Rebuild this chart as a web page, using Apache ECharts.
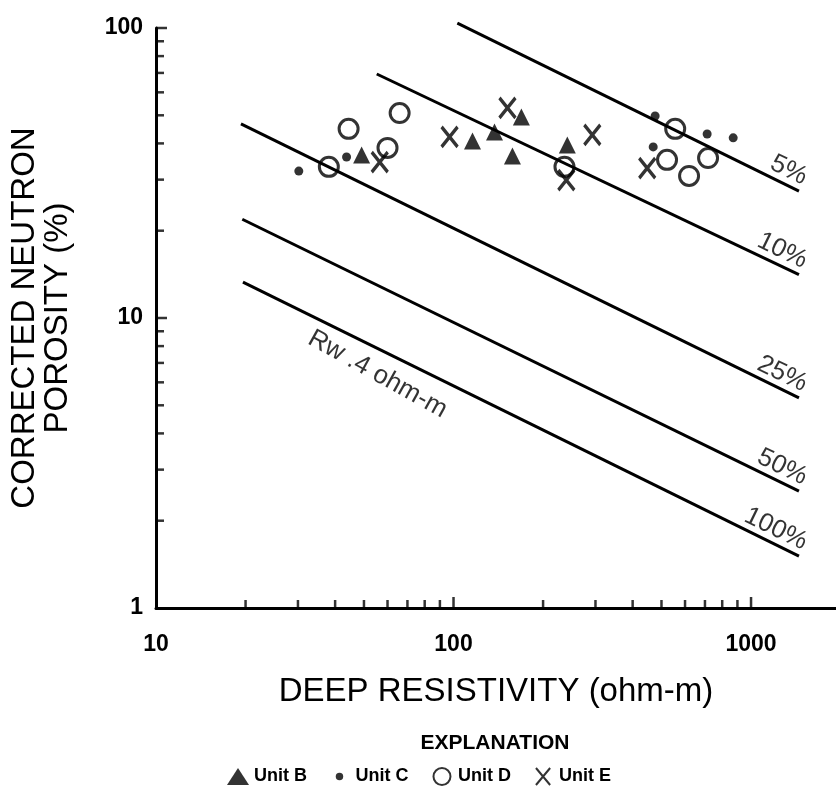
<!DOCTYPE html>
<html>
<head>
<meta charset="utf-8">
<script src="https://cdn.jsdelivr.net/npm/echarts@6/dist/echarts.min.js"></script>
<style>
html,body{margin:0;padding:0;background:#fff;}
#chart{width:836px;height:788px;}
</style>
</head>
<body>
<div id="chart"></div>
<script>
// ---- data ----
const xTickMajor = [100, 1000];
const xTickMinor = [20, 30, 40, 50, 60, 70, 80, 90, 200, 300, 400, 500, 600, 700, 800, 900];
const yTickMajor = [10, 100];
const yTickMinor = [2, 3, 4, 5, 6, 7, 8, 9, 20, 30, 40, 50, 60, 70, 80, 90];

const lineNames = ['5%', '10%', '25%', '50%', '100%'];
const lineStart = [[103, 104], [55.2, 69.4], [19.3, 46.7], [19.5, 21.9], [19.6, 13.3]];
const lineEnd   = [[1449, 27.4], [1449, 14.1], [1449, 5.30], [1449, 2.53], [1449, 1.51]];
const rwLabel = 'Rw .4 ohm-m';

const unitB = [[49.1, 36.5], [115.8, 40.8], [137.3, 43.8], [169.1, 49.3], [157.8, 36.2], [241.3, 39.5]];
const unitC = [[30.2, 32.1], [43.7, 35.9], [476, 49.7], [712, 43.1], [871, 41.8], [469, 38.9]];
const unitD = [[38.1, 33.2], [44.4, 44.9], [60.0, 38.6], [65.9, 50.9], [236, 33.2], [556, 44.9], [522, 35.1], [619, 30.9], [717, 35.6]];
const unitE = [[56.5, 34.5], [97.0, 42.1], [151.8, 53.0], [292.7, 42.8], [239.4, 29.9], [447.7, 32.9]];

const X_MIN = 10, X_MAX = 1930, Y_MIN = 1, Y_MAX = 100;
// ---- chart ----
const FONT = "'Liberation Sans', Arial, Helvetica, sans-serif";
const chart = echarts.init(document.getElementById('chart'));

const isPow10 = v => Math.abs(Math.log10(v) - Math.round(Math.log10(v))) < 1e-6;
const X_PATH = 'path://M0,0L10,12M10,0L0,12';

function xTickSeries(name, vals, len) {
  return {
    type: 'scatter', name: name, silent: true, clip: false, z: 6,
    data: vals.map(v => [v, Y_MIN]),
    symbol: 'rect', symbolSize: [2.5, len], symbolOffset: [0, -len / 2],
    itemStyle: { color: '#000' }
  };
}
function yTickSeries(name, vals, len) {
  return {
    type: 'scatter', name: name, silent: true, clip: false, z: 6,
    data: vals.map(v => [X_MIN, v]),
    symbol: 'rect', symbolSize: [len, 2.5], symbolOffset: [len / 2, 0],
    itemStyle: { color: '#000' }
  };
}

const lineSeries = lineNames.map((n, i) => ({
  type: 'line', name: n, silent: true, clip: false, symbol: 'none',
  data: [lineStart[i], lineEnd[i]],
  lineStyle: { color: '#000', width: 3 }, z: 2
}));

const labelSeries = {
  type: 'scatter', name: 'lineLabels', silent: true, symbolSize: 0, clip: false,
  data: lineNames.map((n, i) => ({ value: lineEnd[i], name: n })),
  label: {
    show: true, formatter: p => p.name, position: [1, -1], align: 'right', verticalAlign: 'bottom',
    rotate: -26, fontFamily: FONT, fontSize: 26, color: '#000'
  }
};
const rwSeries = {
  type: 'scatter', name: 'rwLabel', silent: true, symbolSize: 0,
  data: [{ value: [55.6, 6.40], name: rwLabel }],
  label: {
    show: true, formatter: p => p.name, position: [0, 0], align: 'center', verticalAlign: 'middle',
    rotate: -29, fontFamily: FONT, fontSize: 26, color: '#000'
  }
};

const option = {
  animation: false,
  backgroundColor: '#fff',
  grid: { left: 155, right: 0, top: 28, bottom: 180, containLabel: false },
  title: {
    text: 'EXPLANATION', left: 490, top: 728, textAlign: 'center',
    textStyle: { fontFamily: FONT, fontSize: 21, fontWeight: 'bold', color: '#000' }
  },
  legend: {
    left: 222, top: 762, itemGap: 24, itemWidth: 22, itemHeight: 17,
    textStyle: { fontFamily: FONT, fontSize: 18, fontWeight: 'bold', color: '#000' },
    data: [
      { name: 'Unit B' },
      { name: 'Unit C', icon: 'path://M0,0M16,16M4.5,8a3.5,3.5 0 1,0 7,0a3.5,3.5 0 1,0 -7,0' },
      { name: 'Unit D' },
      { name: 'Unit E' }
    ]
  },
  xAxis: {
    type: 'log', logBase: 10, min: X_MIN, max: X_MAX,
    name: 'DEEP RESISTIVITY (ohm-m)', nameLocation: 'middle', nameGap: 67,
    nameTextStyle: { fontFamily: FONT, fontSize: 33, color: '#000' },
    axisLine: { lineStyle: { color: '#000', width: 3 } },
    axisTick: { show: false }, splitLine: { show: false }, minorTick: { show: false },
    axisLabel: {
      formatter: v => isPow10(v) ? String(Math.round(v)) : '',
      margin: 25, fontFamily: FONT, fontSize: 23, fontWeight: 'bold', color: '#000', showMaxLabel: false
    }
  },
  yAxis: {
    type: 'log', logBase: 10, min: Y_MIN, max: Y_MAX,
    name: 'CORRECTED NEUTRON\nPOROSITY (%)', nameLocation: 'middle', nameGap: 82, nameRotate: 90,
    nameTextStyle: { fontFamily: FONT, fontSize: 33, lineHeight: 33, color: '#000' },
    axisLine: { lineStyle: { color: '#000', width: 3 } },
    axisTick: { show: false }, splitLine: { show: false },
    axisLabel: {
      formatter: v => isPow10(v) ? String(Math.round(v)) : '',
      margin: 13, fontFamily: FONT, fontSize: 23, fontWeight: 'bold', color: '#000'
    }
  },
  series: [
    xTickSeries('xMinorTicks', xTickMinor, 8), xTickSeries('xMajorTicks', xTickMajor, 11),
    yTickSeries('yMinorTicks', yTickMinor, 8), yTickSeries('yMajorTicks', yTickMajor, 11),
    ...lineSeries, labelSeries, rwSeries,
    { type: 'scatter', name: 'Unit B', data: unitB, symbol: 'triangle', symbolSize: 17,
      itemStyle: { color: '#000' }, z: 4 },
    { type: 'scatter', name: 'Unit C', data: unitC, symbol: 'circle', symbolSize: 9,
      itemStyle: { color: '#000' }, z: 4 },
    { type: 'scatter', name: 'Unit D', data: unitD, symbol: 'circle', symbolSize: 19,
      itemStyle: { color: 'rgba(0,0,0,0)', borderColor: '#000', borderWidth: 3 }, z: 4 },
    { type: 'scatter', name: 'Unit E', data: unitE, symbol: X_PATH, symbolSize: [16, 20],
      itemStyle: { color: 'rgba(0,0,0,0)', borderColor: '#000', borderWidth: 3.5 }, z: 4 }
  ]
};
chart.setOption(option);
</script>
</body>
</html>
